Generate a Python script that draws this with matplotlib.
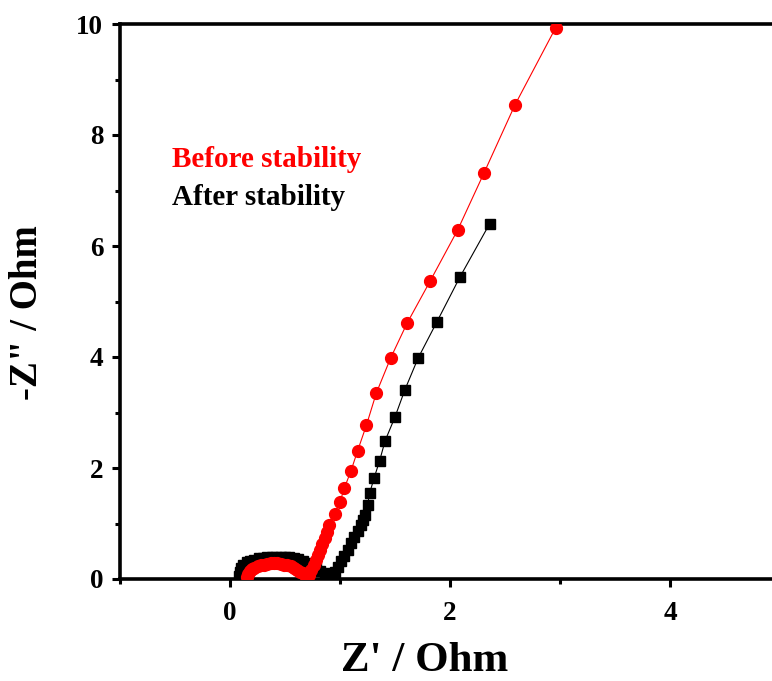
import matplotlib
matplotlib.use("Agg")
import matplotlib.pyplot as plt
from matplotlib.ticker import MultipleLocator

# Before stability (red circles)
before_x = [0.15, 0.16, 0.18, 0.20, 0.22, 0.25, 0.28, 0.31, 0.34, 0.37, 0.40, 0.43, 0.46,
            0.49, 0.52, 0.55, 0.58, 0.61, 0.64, 0.66, 0.68, 0.70, 0.72,
            0.74, 0.76, 0.78, 0.80, 0.82, 0.84, 0.86, 0.88, 0.90, 0.95,
            1.00, 1.04, 1.10, 1.16, 1.24, 1.33, 1.46, 1.61, 1.82, 2.07, 2.31, 2.59, 2.96]
before_y = [0.04, 0.09, 0.14, 0.18, 0.20, 0.23, 0.25, 0.26, 0.27, 0.28, 0.28, 0.28, 0.27,
            0.26, 0.25, 0.23, 0.20, 0.17, 0.13, 0.10, 0.07, 0.05, 0.08,
            0.16, 0.25, 0.34, 0.44, 0.53, 0.63, 0.73, 0.84, 0.98, 1.17,
            1.39, 1.64, 1.95, 2.31, 2.77, 3.35, 3.98, 4.61, 5.37, 6.29, 7.32, 8.54, 9.93]

# After stability (black squares)
after_x = [0.08, 0.09, 0.10, 0.12, 0.15, 0.18, 0.22, 0.26, 0.30, 0.34, 0.38, 0.42, 0.46,
           0.50, 0.54, 0.58, 0.62, 0.66, 0.70, 0.74, 0.78, 0.82, 0.86, 0.89, 0.92,
           0.95, 0.98, 1.01, 1.04, 1.07, 1.10, 1.13, 1.16, 1.19, 1.21, 1.23, 1.25,
           1.27, 1.31, 1.36, 1.41, 1.50, 1.59, 1.71, 1.88, 2.09, 2.36]
after_y = [0.05, 0.13, 0.20, 0.26, 0.30, 0.33, 0.35, 0.37, 0.38, 0.39, 0.40, 0.40, 0.40,
           0.40, 0.39, 0.38, 0.36, 0.33, 0.29, 0.24, 0.19, 0.14, 0.10, 0.07, 0.06,
           0.12, 0.22, 0.32, 0.42, 0.53, 0.65, 0.76, 0.87, 0.97, 1.07, 1.15, 1.33,
           1.55, 1.82, 2.13, 2.49, 2.92, 3.41, 3.98, 4.63, 5.44, 6.40]

x_ticks = [0, 2, 4]
y_ticks = [0, 2, 4, 6, 8, 10]

plt.rcParams['font.family'] = ['Liberation Serif', 'DejaVu Serif']
plt.rcParams['font.weight'] = 'bold'

fig = plt.figure(figsize=(7.72, 6.81), dpi=100)
ax = fig.add_axes([120/772, 102/681, 660/772, 555/681])

ax.plot(after_x, after_y, color='black', lw=0.8, marker='s', ms=7.5,
        mfc='black', mec='black', zorder=3)
ax.plot(before_x, before_y, color='red', lw=0.8, marker='o', ms=8.5,
        mfc='red', mec='red', zorder=4)

ax.set_xlim(-1, 5)
ax.set_ylim(0, 10)
ax.set_xticks(x_ticks)
ax.set_yticks(y_ticks)
ax.xaxis.set_minor_locator(MultipleLocator(1))
ax.yaxis.set_minor_locator(MultipleLocator(1))

for s in ['top', 'bottom', 'left', 'right']:
    ax.spines[s].set_linewidth(2.6)

ax.tick_params(which='major', direction='out', length=6, width=2.2,
               labelsize=19.5)
ax.tick_params(which='minor', direction='out', length=3.5, width=2.2)
ax.tick_params(axis='x', which='major', pad=10)
ax.tick_params(axis='y', which='major', pad=6)
for lab in ax.get_xticklabels() + ax.get_yticklabels():
    lab.set_fontweight('bold')

ax.text(-0.53, 7.42, 'Before stability', color='red', fontsize=21,
        fontweight='bold', ha='left', va='baseline')
ax.text(-0.53, 6.74, 'After stability', color='black', fontsize=21,
        fontweight='bold', ha='left', va='baseline')

fig.text(425/772, 1 - 661/681, "Z' / Ohm", fontsize=31, fontweight='bold',
         ha='center', va='center')
fig.text(28/772, 1 - 313/681, '-Z" / Ohm', fontsize=28, fontweight='bold',
         ha='center', va='center', rotation=90)

fig.savefig('out.png', dpi=100)
